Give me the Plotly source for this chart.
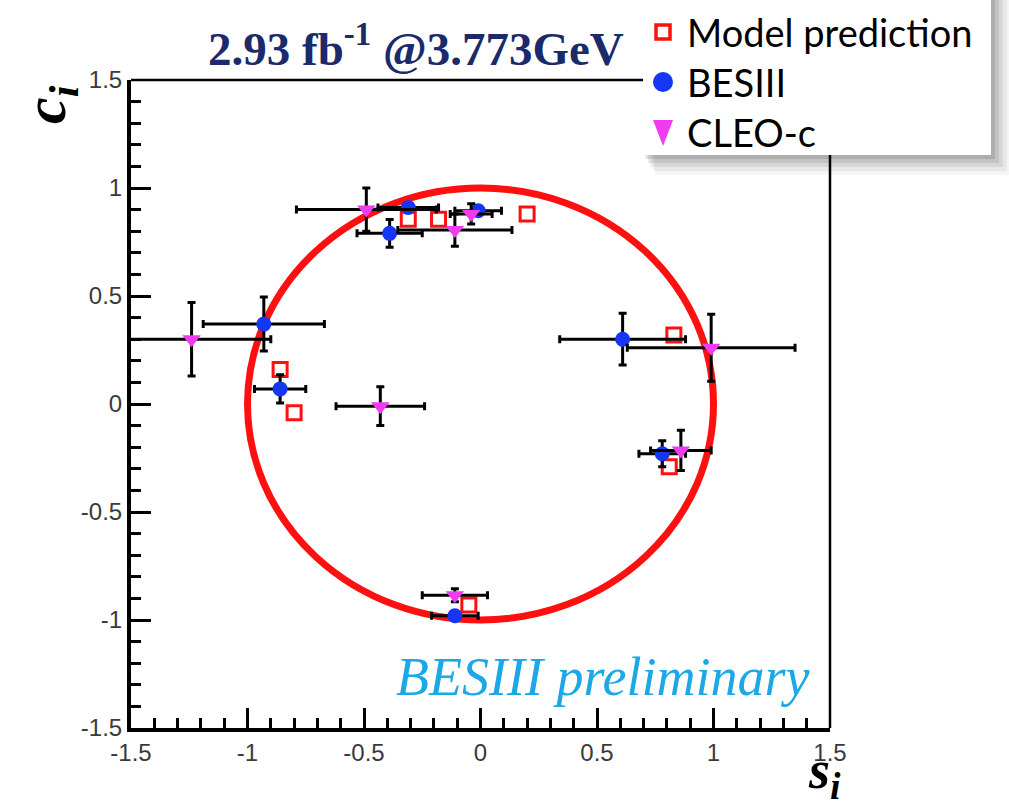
import plotly.graph_objects as go

# Model prediction (open squares)
model_s = [0.20, -0.31, -0.18, -0.86, -0.80, 0.83, 0.81, -0.05]
model_c = [0.88, 0.855, 0.855, 0.16, -0.04, 0.32, -0.29, -0.93]

# BESIII measurement
bes_s = [-0.01, -0.31, -0.39, -0.93, -0.86, 0.61, 0.78, -0.11]
bes_c = [0.895, 0.91, 0.79, 0.37, 0.07, 0.30, -0.23, -0.98]
bes_s_err = [0.10, 0.13, 0.14, 0.26, 0.11, 0.27, 0.10, 0.10]
bes_c_err = [0.02, 0.02, 0.064, 0.125, 0.065, 0.12, 0.06, 0.02]

# CLEO-c measurement
cleo_s = [-0.04, -0.49, -0.11, -1.24, -0.43, 0.99, 0.86, -0.11]
cleo_c = [0.88, 0.90, 0.805, 0.30, -0.01, 0.26, -0.215, -0.885]
cleo_s_err = [0.09, 0.30, 0.245, 0.34, 0.19, 0.36, 0.13, 0.14]
cleo_c_err = [0.047, 0.10, 0.075, 0.17, 0.09, 0.155, 0.093, 0.03]

x_ticks = [-1.5, -1, -0.5, 0, 0.5, 1, 1.5]
x_ticklabels = ["-1.5", "-1", "-0.5", "0", "0.5", "1", "1.5"]
y_ticks = [-1.5, -1, -0.5, 0, 0.5, 1, 1.5]
y_ticklabels = ["-1.5", "-1", "-0.5", "0", "0.5", "1", "1.5"]

legend_labels = ["Model prediction", "BESIII", "CLEO-c"]

RED = "#ff1010"
BLUE = "#1536f5"
MAGENTA = "#f03cf0"

fig = go.Figure()

err_style = dict(color="black", thickness=3, width=4)

fig.add_trace(go.Scatter(
    x=model_s, y=model_c, mode="markers",
    marker=dict(symbol="square-open", size=14, color=RED, line=dict(width=3, color=RED)),
    showlegend=False, cliponaxis=True,
))
fig.add_trace(go.Scatter(
    x=bes_s, y=bes_c, mode="markers",
    error_x=dict(type="data", array=bes_s_err, **err_style),
    error_y=dict(type="data", array=bes_c_err, **err_style),
    marker=dict(symbol="circle", size=15, color=BLUE),
    showlegend=False, cliponaxis=True,
))
fig.add_trace(go.Scatter(
    x=cleo_s, y=cleo_c, mode="markers",
    error_x=dict(type="data", array=cleo_s_err, **err_style),
    error_y=dict(type="data", array=cleo_c_err, **err_style),
    marker=dict(symbol="triangle-down", size=16, color=MAGENTA),
    showlegend=False, cliponaxis=True,
))

tick_font = dict(family="Liberation Sans, Arial", size=24, color="#3a3a3a")

fig.update_xaxes(
    range=[-1.5, 1.5], tickvals=x_ticks, ticktext=x_ticklabels,
    ticks="inside", ticklen=20, tickwidth=3, tickcolor="black",
    minor=dict(ticks="inside", ticklen=10, tickwidth=3, dtick=0.1, tickcolor="black", showgrid=False),
    showline=True, linewidth=4, linecolor="black", mirror=False,
    showgrid=False, zeroline=False, tickfont=tick_font,
)
fig.update_yaxes(
    range=[-1.5, 1.5], tickvals=y_ticks, ticktext=y_ticklabels,
    ticks="inside", ticklen=20, tickwidth=3, tickcolor="black",
    minor=dict(ticks="inside", ticklen=10, tickwidth=3, dtick=0.1, tickcolor="black", showgrid=False),
    showline=True, linewidth=4, linecolor="black", mirror=False,
    showgrid=False, zeroline=False, tickfont=tick_font,
)

shapes = []
# unit circle |c + i s| = 1
shapes.append(dict(type="circle", xref="x", yref="y", x0=-1, y0=-1, x1=1, y1=1,
                   line=dict(color=RED, width=7), layer="below"))
# top and right frame
shapes.append(dict(type="line", xref="paper", yref="paper", x0=0, y0=1, x1=1, y1=1,
                   line=dict(color="black", width=2.5), layer="above"))
shapes.append(dict(type="line", xref="paper", yref="paper", x0=1, y0=0, x1=1, y1=1,
                   line=dict(color="black", width=2.5), layer="above"))

# legend box with a soft shadow (pixel coordinates converted to paper)
W, H = 1009, 807
L, R, T, B = 131, 179, 80, 79
pw, ph = W - L - R, H - T - B


def px(xp):
    return (xp - L) / pw


def py(yp):
    return (H - B - yp) / ph


box = (643, 0, 991, 155)
for off, op in [(20, 0.04), (16, 0.05), (12, 0.07), (8, 0.09), (4, 0.11)]:
    shapes.append(dict(type="rect", xref="paper", yref="paper",
                       x0=px(box[0] + off * 0.6), x1=px(box[2] + off),
                       y0=py(box[3] + off), y1=py(box[1] - 5),
                       line=dict(width=0), fillcolor=f"rgba(0,0,0,{op})", layer="above"))
shapes.append(dict(type="rect", xref="paper", yref="paper",
                   x0=px(box[0]), x1=px(box[2]), y0=py(box[3]), y1=py(box[1] - 5),
                   line=dict(width=0), fillcolor="white", layer="above"))

# legend glyphs
row_y = [32, 82, 132]
gx = 663
shapes.append(dict(type="rect", xref="paper", yref="paper",
                   x0=px(gx - 7), x1=px(gx + 7), y0=py(row_y[0] + 7), y1=py(row_y[0] - 7),
                   line=dict(color=RED, width=3.5), fillcolor="white", layer="above"))
shapes.append(dict(type="circle", xref="paper", yref="paper",
                   x0=px(gx - 10), x1=px(gx + 10), y0=py(row_y[1] + 10), y1=py(row_y[1] - 10),
                   line=dict(width=0), fillcolor=BLUE, layer="above"))
shapes.append(dict(type="path", xref="paper", yref="paper",
                   path=f"M {px(gx - 10)},{py(row_y[2] - 12)} L {px(gx + 10)},{py(row_y[2] - 12)} "
                        f"L {px(gx)},{py(row_y[2] + 14)} Z",
                   line=dict(width=0), fillcolor=MAGENTA, layer="above"))

annotations = []
for lbl, yy in zip(legend_labels, row_y):
    annotations.append(dict(text=lbl, xref="paper", yref="paper", x=px(685), y=py(yy),
                            xanchor="left", yanchor="middle", showarrow=False,
                            font=dict(family="Lato", size=38, color="black")))

# title
annotations.append(dict(text="2.93 fb<sup>-1</sup> @3.773GeV", xref="paper", yref="paper",
                        x=px(416), y=py(45), xanchor="center", yanchor="middle", showarrow=False,
                        font=dict(family="Liberation Serif", size=47, color="#1b2a6b", weight="bold")))
# axis titles
annotations.append(dict(text="<i>c<sub>i</sub></i>", xref="paper", yref="paper",
                        x=px(50), y=py(105), xanchor="center", yanchor="middle", showarrow=False,
                        textangle=-90,
                        font=dict(family="Liberation Serif", size=60, color="black", weight="bold")))
annotations.append(dict(text="<i>s<sub>i</sub></i>", xref="paper", yref="paper",
                        x=px(824), y=py(773), xanchor="center", yanchor="middle", showarrow=False,
                        font=dict(family="Liberation Serif", size=54, color="black", weight="bold")))
# watermark
annotations.append(dict(text="<i>BESIII preliminary</i>", xref="paper", yref="paper",
                        x=px(602), y=py(677), xanchor="center", yanchor="middle", showarrow=False,
                        font=dict(family="Liberation Serif", size=54, color="#1aa8e6")))

fig.update_layout(
    width=W, height=H,
    margin=dict(l=L, r=R, t=T, b=B),
    paper_bgcolor="white", plot_bgcolor="white",
    shapes=shapes, annotations=annotations,
    showlegend=False,
)

fig.write_html("out.html")
